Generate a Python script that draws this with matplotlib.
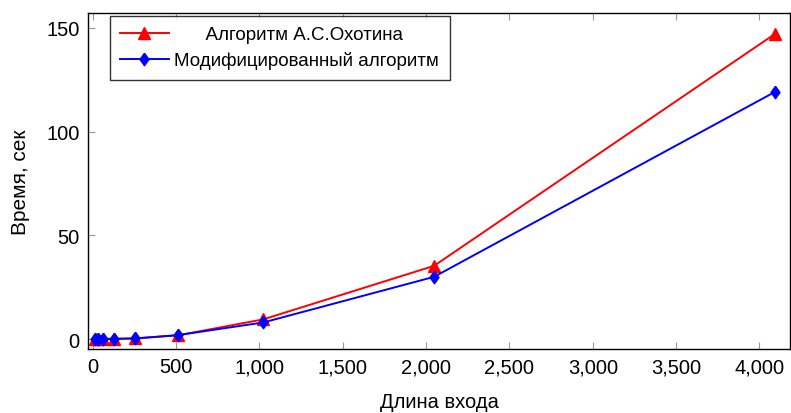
import matplotlib
matplotlib.use("Agg")
import matplotlib.pyplot as plt

plt.rcParams['font.family'] = ['Liberation Sans', 'DejaVu Sans']

x_len = [16, 32, 64, 128, 256, 512, 1024, 2048, 4096]
t_orig = [0.0, 0.0, 0.05, 0.1, 0.3, 1.8, 9.5, 35.3, 147.3]
t_mod = [0.0, 0.0, 0.05, 0.1, 0.3, 1.9, 8.0, 30.0, 119.3]
labels = ['Алгоритм А.С.Охотина', 'Модифицированный алгоритм']
xticks = [0, 500, 1000, 1500, 2000, 2500, 3000, 3500, 4000]
yticks = [0, 50, 100, 150]

diamond = [(0, 1), (0.72, 0), (0, -1), (-0.72, 0), (0, 1)]

fig = plt.figure(figsize=(7.91, 4.14), dpi=100)
ax = fig.add_axes([88/791, 1-350/414, (790-88)/791, (350-14)/414])

ax.plot(x_len, t_orig, color='red', marker='^', markersize=8, lw=1.4,
        label='      ' + labels[0])
ax.plot(x_len, t_mod, color='blue', marker=diamond, markersize=9, lw=1.4,
        label=labels[1])

ax.set_xlim(-28, 4183)
ax.set_ylim(-4.8, 157.2)
ax.set_xticks(xticks)
ax.set_xticklabels([f"{v:,}" for v in xticks], fontsize=14.5)
ax.set_yticks(yticks)
ax.set_yticklabels([str(v) for v in yticks], fontsize=14.5)
ax.tick_params(direction='in', length=5, color='#999999',
               top=True, right=False, pad=6)
for s in ax.spines.values():
    s.set_linewidth(1.0)
ax.set_xlabel('Длина входа', fontsize=14.5, labelpad=11)
ax.set_ylabel('Время, сек', fontsize=15, labelpad=12)

leg = ax.legend(loc='upper left', bbox_to_anchor=(0.031, 0.991), fontsize=13.5,
                frameon=True, fancybox=False, edgecolor='black',
                handlelength=2.6, borderpad=0.55, labelspacing=0.42,
                handletextpad=0.3, borderaxespad=0.0)
leg.get_frame().set_linewidth(1.0)

fig.savefig('out.png', dpi=100)
